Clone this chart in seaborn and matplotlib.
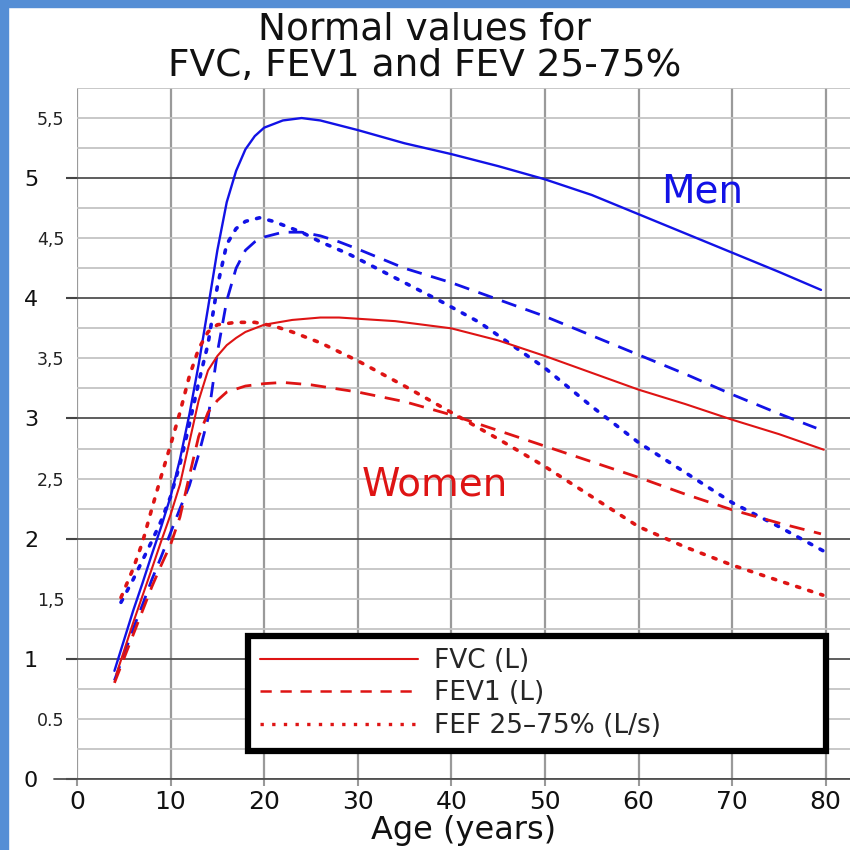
import matplotlib
matplotlib.use("Agg")
import matplotlib.pyplot as plt
from matplotlib.lines import Line2D
from matplotlib.patches import Rectangle
from matplotlib.ticker import MultipleLocator, FuncFormatter, FixedLocator
import seaborn as sns
import pandas as pd

# ---------------- data ----------------
men_fvc_age = [4, 5, 6, 7, 8, 9, 10, 11, 12, 13, 14, 15, 16, 17, 18, 19, 20, 22, 24, 26, 28, 30,
               35, 40, 45, 50, 55, 60, 65, 70, 75, 79.5]
men_fvc = [0.90, 1.15, 1.40, 1.63, 1.87, 2.10, 2.35, 2.66, 3.03, 3.45, 3.92, 4.40, 4.80, 5.06, 5.24,
           5.35, 5.42, 5.48, 5.50, 5.48, 5.44, 5.40, 5.29, 5.20, 5.10, 4.99, 4.86, 4.70, 4.54, 4.38,
           4.22, 4.07]

men_fev1_age = [4, 5, 6, 7, 8, 9, 10, 11, 12, 13, 14, 15, 16, 17, 18, 19, 20, 22, 24, 26, 28, 30,
                35, 40, 45, 50, 55, 60, 65, 70, 75, 79]
men_fev1 = [0.82, 1.03, 1.25, 1.45, 1.66, 1.85, 2.05, 2.25, 2.44, 2.70, 3.00, 3.55, 3.98, 4.25, 4.40,
            4.47, 4.51, 4.55, 4.55, 4.52, 4.47, 4.41, 4.25, 4.13, 3.99, 3.85, 3.69, 3.53, 3.37, 3.20,
            3.04, 2.92]

men_fef_age = [4.7, 6, 7, 8, 9, 10, 11, 12, 13, 14, 15, 16, 17, 18, 19.5, 21, 24, 26, 29, 34, 39,
               43, 47.6, 50, 55, 60, 65, 70, 75, 79.7]
men_fef = [1.47, 1.66, 1.82, 1.98, 2.15, 2.35, 2.62, 2.95, 3.30, 3.62, 4.10, 4.45, 4.58, 4.64, 4.67,
           4.64, 4.55, 4.47, 4.37, 4.17, 3.97, 3.80, 3.55, 3.42, 3.10, 2.80, 2.55, 2.30, 2.10, 1.90]

women_fvc_age = [4.2, 6, 8, 9, 10, 11, 12, 13, 14, 15, 16, 17, 18, 20, 23, 26, 28, 30, 34, 40, 45,
                 50, 55, 60, 65, 70, 75, 79.8]
women_fvc = [0.87, 1.30, 1.75, 1.98, 2.20, 2.45, 2.80, 3.15, 3.40, 3.52, 3.61, 3.67, 3.72, 3.78,
             3.82, 3.84, 3.84, 3.83, 3.81, 3.75, 3.65, 3.52, 3.38, 3.24, 3.12, 2.99, 2.87, 2.74]

women_fev1_age = [4, 6, 8, 9, 10, 11, 12, 13, 14, 15, 16, 18, 20, 22, 25, 30, 35, 40, 45, 50, 55,
                  60, 65, 70, 75, 79.5]
women_fev1 = [0.80, 1.20, 1.60, 1.78, 1.95, 2.18, 2.52, 2.85, 3.05, 3.15, 3.22, 3.27, 3.29, 3.30,
              3.28, 3.22, 3.14, 3.03, 2.90, 2.77, 2.64, 2.51, 2.37, 2.24, 2.13, 2.04]

women_fef_age = [4.7, 6, 7, 8, 9, 10, 11, 12, 13, 14, 15, 17, 19, 21, 23, 26, 30, 35, 40, 45, 50,
                 55, 60, 65, 70, 75, 79.7]
women_fef = [1.51, 1.75, 1.97, 2.25, 2.52, 2.78, 3.05, 3.35, 3.58, 3.72, 3.78, 3.80, 3.80, 3.77,
             3.72, 3.63, 3.48, 3.27, 3.05, 2.83, 2.60, 2.35, 2.10, 1.93, 1.78, 1.65, 1.53]

legend_labels = ["FVC (L)", "FEV1 (L)", "FEF 25\u201375% (L/s)"]
group_labels = ["Men", "Women"]
x_ticks = [0, 10, 20, 30, 40, 50, 60, 70, 80]
y_major = [0, 1, 2, 3, 4, 5]
y_half_labels = {0.5: "0.5", 1.5: "1,5", 2.5: "2,5", 3.5: "3,5", 4.5: "4,5", 5.5: "5,5"}
title = "Normal values for\nFVC, FEV1 and FEV 25-75%"
xlabel = "Age (years)"

# ---------------- style ----------------
sns.set_theme(style="white")
plt.rcParams["font.family"] = ["DejaVu Sans"]

BLUE = "#1212e6"
RED = "#de1414"
SOLID = "-"
DASHED = (0, (5.5, 3.5))
DOTTED = (0, (0.9, 2.6))

fig = plt.figure(figsize=(8.5, 8.5), dpi=100)
W = H = 850.0
ax_left, ax_right, ax_top, ax_bottom = 77, 850, 88, 779
ax = fig.add_axes([ax_left / W, 1 - ax_bottom / H, (ax_right - ax_left) / W, (ax_bottom - ax_top) / H])

# blue frame bands
fig.patches.append(Rectangle((0, 0), 8 / W, 1, transform=fig.transFigure, color="#558ed5", zorder=10))
fig.patches.append(Rectangle((0, 1 - 7 / H), 1, 7 / H, transform=fig.transFigure, color="#558ed5", zorder=10))

series = [
    (men_fvc_age, men_fvc, BLUE, SOLID, 1.7, "butt"),
    (men_fev1_age, men_fev1, BLUE, DASHED, 2.0, "butt"),
    (men_fef_age, men_fef, BLUE, DOTTED, 2.6, "round"),
    (women_fvc_age, women_fvc, RED, SOLID, 1.5, "butt"),
    (women_fev1_age, women_fev1, RED, DASHED, 2.0, "butt"),
    (women_fef_age, women_fef, RED, DOTTED, 2.6, "round"),
]
for xs, ys, col, ls, lw, cap in series:
    df = pd.DataFrame({"age": xs, "value": ys})
    sns.lineplot(data=df, x="age", y="value", ax=ax, color=col, linestyle=ls,
                 linewidth=lw, errorbar=None, legend=False, zorder=5,
                 dash_capstyle=cap)

ax.set_xlim(0, 82.6)
ax.set_ylim(0, 5.75)

for s in ax.spines.values():
    s.set_visible(False)

# x axis
ax.set_xticks(x_ticks)
ax.set_xticklabels([str(v) for v in x_ticks])
ax.tick_params(axis="x", which="major", length=5, width=1.5, color="#999999", pad=3,
               labelsize=18, labelcolor="#111111", bottom=True)
ax.grid(axis="x", which="major", color="#9a9a9a", linewidth=1.6, zorder=1)
ax.set_xlabel(xlabel, fontsize=23, color="#111111", labelpad=1)

# y axis
ax.yaxis.set_major_locator(FixedLocator(y_major))
ax.set_yticklabels([str(v) for v in y_major])
ax.yaxis.set_minor_locator(MultipleLocator(0.25))
ax.yaxis.set_minor_formatter(FuncFormatter(lambda v, p: y_half_labels.get(round(v, 2), "")))
ax.tick_params(axis="y", which="major", length=8, width=1.5, color="#444444", pad=20,
               labelsize=16, labelcolor="#111111", left=True)
ax.tick_params(axis="y", which="minor", length=0, pad=9, labelsize=12.5,
               labelcolor="#222222", left=True)
ax.grid(axis="y", which="major", color="#505050", linewidth=1.3, zorder=1)
ax.grid(axis="y", which="minor", color="#c4c4c4", linewidth=1.3, zorder=1)
ax.set_ylabel("")
ax.axhline(0, xmin=-0.03, xmax=1, color="#505050", linewidth=1.3, clip_on=False, zorder=2)

# group annotations
ax.text(66.8, 4.89, group_labels[0], color=BLUE, fontsize=28, ha="center", va="center")
ax.text(38.2, 2.45, group_labels[1], color=RED, fontsize=28, ha="center", va="center")

# legend
handles = [
    Line2D([], [], color=RED, linestyle=SOLID, linewidth=1.5),
    Line2D([], [], color=RED, linestyle=(0, (4.5, 3.5)), linewidth=1.8),
    Line2D([], [], color=RED, linestyle=(0, (1, 2.5)), linewidth=2.4),
]
leg = ax.legend(handles, legend_labels, loc="upper left",
                bbox_to_anchor=(0.221, 0.207, 0.748, 0.0), mode="expand",
                fontsize=19, handlelength=6.0, handletextpad=0.6, labelspacing=0.25,
                borderpad=0.45, borderaxespad=0, frameon=True, fancybox=False)
frame = leg.get_frame()
frame.set_edgecolor("black")
frame.set_linewidth(4.5)
frame.set_facecolor("white")
frame.set_alpha(1)
leg.set_zorder(20)

# title
fig.text(0.5, 1 - 11 / H, title, ha="center", va="top", fontsize=27, color="#111111",
         linespacing=1.05)

fig.savefig("out.png", dpi=100, facecolor="white")
